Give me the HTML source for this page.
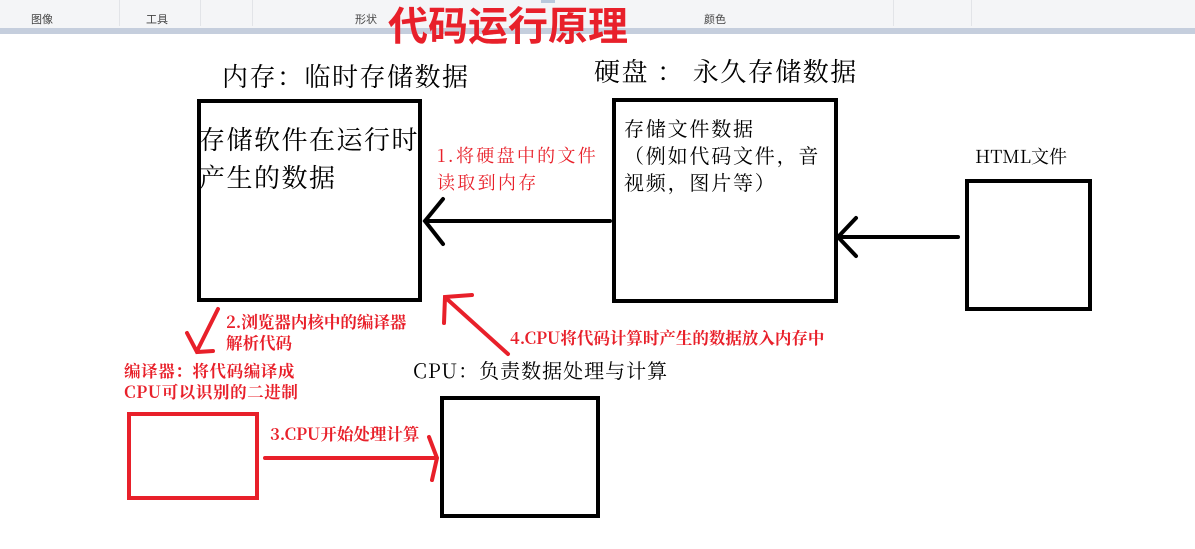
<!DOCTYPE html>
<html><head><meta charset="utf-8"><style>
body{margin:0;width:1195px;height:549px;position:relative;background:#fff;overflow:hidden;font-family:"Noto Serif CJK SC","Liberation Serif",serif;}
.t{position:absolute;white-space:nowrap;color:#000;}
.r{color:#e8202a;font-weight:bold;}
.box{position:absolute;border:4px solid #000;box-sizing:border-box;}
.tb{position:absolute;top:11px;font-size:11px;color:#444;font-family:"Liberation Sans","Noto Sans CJK SC",sans-serif;}
</style></head><body>
<div style="position:absolute;left:0;top:0;width:1195px;height:28px;background:#f4f5f7"></div>
<div style="position:absolute;left:0;top:28px;width:1195px;height:6px;background:#c5cedd"></div>
<div style="position:absolute;left:119px;top:0;width:1px;height:26px;background:#e2e4e8"></div>
<div style="position:absolute;left:200px;top:0;width:1px;height:26px;background:#e2e4e8"></div>
<div style="position:absolute;left:252px;top:0;width:1px;height:26px;background:#e2e4e8"></div>
<div style="position:absolute;left:893px;top:0;width:1px;height:26px;background:#e2e4e8"></div>
<div style="position:absolute;left:971px;top:0;width:1px;height:26px;background:#e2e4e8"></div>
<div style="position:absolute;left:541px;top:0;width:14px;height:3px;background:#b8c8dc"></div>
<div class="tb" style="left:31px">图像</div>
<div class="tb" style="left:146px">工具</div>
<div class="tb" style="left:355px">形状</div>
<div class="tb" style="left:704px">颜色</div>
<div class="t" style="left:388px;top:0px;font-size:40px;font-weight:bold;color:#e8202a;font-family:'Noto Sans CJK SC',sans-serif;line-height:46px">代码运行原理</div>

<div class="t" style="left:222px;top:59px;font-size:26px;letter-spacing:1.5px;line-height:34px">内存：临时存储数据</div>
<div class="t" style="left:594px;top:54px;font-size:26px;letter-spacing:1.5px;line-height:34px">硬盘 ： 永久存储数据</div>

<div class="box" style="left:197px;top:99px;width:225px;height:203px"></div>
<div class="t" style="left:199px;top:120px;font-size:26px;letter-spacing:1.5px;line-height:38px">存储软件在运行时<br>产生的数据</div>

<div class="box" style="left:612px;top:98px;width:226px;height:205px"></div>
<div class="t" style="left:624px;top:114px;font-size:20px;letter-spacing:1.8px;line-height:27px">存储文件数据<br>（例如代码文件，音<br>视频，图片等）</div>

<div class="t" style="left:975px;top:143px;font-size:18px;line-height:27px">HTML文件</div>
<div class="box" style="left:965px;top:179px;width:127px;height:132px"></div>

<div class="t" style="left:437px;top:142px;font-size:18px;letter-spacing:2.3px;line-height:27px;color:#e8202a">1.将硬盘中的文件<br>读取到内存</div>
<div class="t r" style="left:226px;top:311px;font-size:16.5px;line-height:21px">2.浏览器内核中的编译器<br>解析代码</div>
<div class="t r" style="left:124px;top:360px;font-size:16.5px;letter-spacing:0.6px;line-height:21px">编译器：将代码编译成<br>CPU可以识别的二进制</div>
<div class="t r" style="left:270px;top:423px;font-size:16.5px;line-height:21px">3.CPU开始处理计算</div>
<div class="t r" style="left:510px;top:327px;font-size:16.5px;line-height:21px">4.CPU将代码计算时产生的数据放入内存中</div>
<div class="t" style="left:413px;top:356px;font-size:20px;letter-spacing:1px;line-height:28px">CPU：负责数据处理与计算</div>

<div class="box" style="left:127px;top:412px;width:132px;height:88px;border-color:#e8202a"></div>
<div class="box" style="left:440px;top:396px;width:160px;height:122px"></div>

<svg width="1195" height="549" style="position:absolute;left:0;top:0" fill="none" stroke-linecap="round">
<g stroke="#000" stroke-width="4">
<path d="M610 221 L425 221 M443 199 L425 221 L443 244"/>
<path d="M958 237 L838 237 M856 218 L838 237 L856 256"/>
</g>
<g stroke="#e8202a" stroke-width="4">
<path d="M218 309 L197 351 M187 333 L197 352 L213 351"/>
<path d="M265 458 L437 458 M429 437 L437 458 L432 480"/>
<path d="M508 354 L447 299 M444 323 L445 297 L472 295"/>
</g>
</svg>
</body></html>
